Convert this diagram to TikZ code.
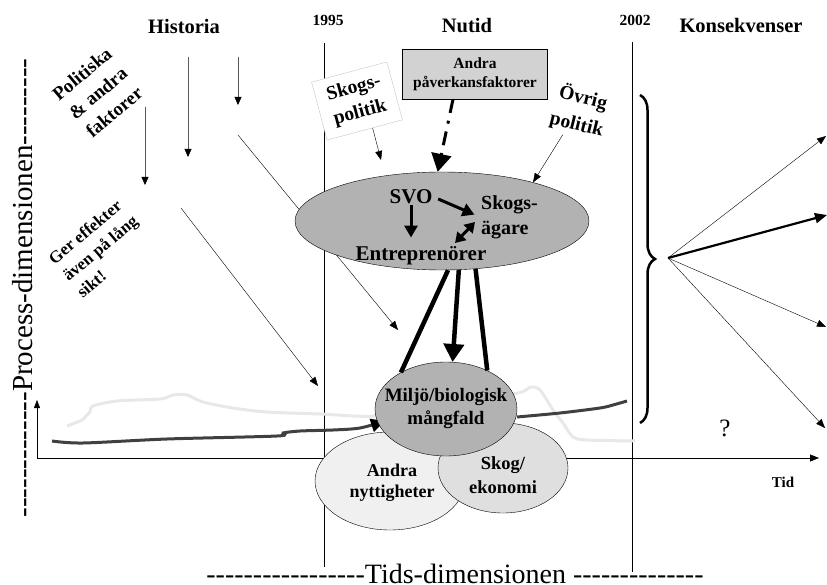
\documentclass[tikz,border=0pt]{standalone}
\usepackage{fontspec}
\setmainfont{Liberation Serif}
\usetikzlibrary{arrows.meta,shapes.geometric,decorations.pathreplacing}
\newcommand\fsz[2]{\fontsize{#1}{#2}\selectfont}
\newcommand\streck[1]{\foreach\i in {1,...,#1}{-\kern0pt}}

\begin{document}
\begin{tikzpicture}[x=1pt,y=-1pt]
\tikzstyle{rubrik}=[font=\fsz{20.5}{24}\bfseries]
\tikzstyle{aarstal}=[font=\fsz{15.5}{18}\bfseries]
\tikzstyle{bubbla}=[ellipse, draw, inner sep=0pt]
\tikzstyle{tunnpil}=[-{Triangle[length=9pt,width=7pt]}]
\tikzstyle{histpil}=[black!65, -{Triangle[length=8pt,width=7pt,color=black]}]
\tikzstyle{grovpil}=[line width=3pt, -{Triangle[length=12pt,width=13pt]}]
\tikzstyle{stapel}=[line width=4.5pt]

\useasboundingbox (0,0) rectangle (827,585);

% tidslinjer 1995 och 2002
\coordinate (t95a) at (324,43);
\coordinate (t95b) at (324,567);
\coordinate (t02a) at (632,42);
\coordinate (t02b) at (632,572);
\draw (t95a) -- (t95b);
\draw (t02a) -- (t02b);

% axlar
\coordinate (origo) at (37,458);
\coordinate (ytopp) at (37,400);
\coordinate (xslut) at (819,458);
\draw[-{Triangle[length=8pt,width=6pt]}] (origo) -- (ytopp);
\draw[-{Triangle[length=9pt,width=7pt]}] (origo) -- (xslut);

% pilar fraan historien
\coordinate (h1a) at (145,107);
\coordinate (h1b) at (145,185);
\coordinate (h2a) at (188,57);
\coordinate (h2b) at (188,157);
\coordinate (h3a) at (238,57);
\coordinate (h3b) at (238,105);
\draw[histpil] (h1a) -- (h1b);
\draw[histpil] (h2a) -- (h2b);
\draw[histpil] (h3a) -- (h3b);
\coordinate (d1a) at (238,135);
\coordinate (d1b) at (398,330);
\coordinate (d2a) at (181,208);
\coordinate (d2b) at (318,386);
\draw[tunnpil] (d1a) -- (d1b);
\draw[tunnpil] (d2a) -- (d2b);

% kurvorna
\draw[gray!18, line width=3pt] plot[smooth, tension=0.5] coordinates {(67,426) (82,420) (86,416) (90,412) (93,406) (117,401) (160,399) (173,395) (187,395) (203,402) (233,408) (267,412) (320,414) (377,416) (450,405) (518,393) (530,387) (540,390) (553,410) (563,423) (573,437) (587,440) (635,441)};
\draw[black!75, line width=3pt, -{Triangle[length=14pt,width=13pt,color=black]}] plot[smooth, tension=0.5] coordinates {(52,441) (83,443) (167,439) (277,436) (283,433) (300,431) (333,430) (360,428) (385,421)};
\draw[black!75, line width=3pt] plot[smooth, tension=0.5] coordinates {(517,417) (560,413) (600,408) (613,405) (627,401)};

% bubblor
\node[bubbla, fill=gray!60, minimum width=294pt, minimum height=98pt] (vo) at (442,221) {};
\node[bubbla, fill=gray!12, minimum width=150pt, minimum height=98pt] (nytta) at (390,481) {};
\node[bubbla, fill=gray!25, minimum width=130pt, minimum height=90pt] (skog) at (503,468) {};
\node[bubbla, fill=gray!60, minimum width=142pt, minimum height=94pt] (miljo) at (446,409) {};
\node[font=\fsz{18}{21}\bfseries, align=center] (nyttatxt) at (392,483) {Andra\\nyttigheter};
\node[font=\fsz{18.5}{24}\bfseries, align=center] (skogtxt) at (503,475) {Skog/\\ekonomi};
\node[font=\fsz{19}{23}\bfseries, align=center] (miljotxt) at (446,409) {Miljö/biologisk\\mångfald};

% aktoerer
\node[font=\fsz{21}{24}\bfseries, inner sep=1pt] (svo) at (411,197) {SVO};
\node[font=\fsz{21}{24}\bfseries, inner sep=1pt] (entrepr) at (421,256) {Entreprenörer};
\node[font=\fsz{20}{25}\bfseries, align=left, anchor=west, inner sep=1pt] (agare) at (480,217) {Skogs-\\ägare};
\draw[grovpil, shorten >=8pt] (svo.south) -- (svo.south |- entrepr.north);
\draw[grovpil, shorten <=5pt, shorten >=6pt] (svo.east) -- (agare.west);
\coordinate (dubbelA) at (455,243);
\coordinate (dubbelB) at (475,222);
\draw[line width=3pt, {Triangle[length=10pt,width=12pt]}-{Triangle[length=10pt,width=12pt]}] (dubbelA) -- (dubbelB);

\draw[stapel] (vo.277) -- (miljo.141);
\draw[stapel, -{Triangle[length=18pt,width=20pt]}] (vo.289) -- (miljo.82);
\draw[stapel] (vo.305) -- (miljo.43);

% paaverkan uppifraan
\node[draw, fill=gray!35, font=\fsz{15.5}{19}\bfseries, align=center, minimum width=145pt, minimum height=50pt, inner sep=1pt] (andrapav) at (475,74) {Andra\\påverkansfaktorer};
\node[draw=gray!45, fill=white, font=\fsz{19.5}{25}\bfseries, align=center, minimum width=78pt, minimum height=60pt, rotate=15] (skogspol) at (357,101) {Skogs-\\politik};
\node[font=\fsz{19.5}{27}\bfseries, align=center, rotate=-14] (ovrig) at (580,111) {Övrig\\politik};
\coordinate (skpolslut) at (381,160);
\draw[tunnpil] (skogspol.-75) -- (skpolslut);
\draw[tunnpil] (ovrig.248) -- (vo.23);
\draw[line width=3pt, dash pattern=on 14pt off 8pt on 3pt off 8pt, -{Triangle[length=18pt,width=20pt]}] ([xshift=-22pt]andrapav.south) -- (vo.95);

% rubriker
\node[rubrik] (historia) at (184,26) {Historia};
\node[rubrik] (nutid) at (467,26) {Nutid};
\node[rubrik] (konsekv) at (741,25) {Konsekvenser};
\node[aarstal] (ar95) at (328,20) {1995};
\node[aarstal] (ar02) at (635,20) {2002};

% snedstaellda texter
\node[font=\fsz{19}{25}\bfseries, align=center, rotate=40] (politiska) at (98,93) {Politiska\\\& andra\\faktorer};
\node[font=\fsz{17}{22}\bfseries, align=left, rotate=40] (effekter) at (100,248) {Ger effekter\\även på lång\\sikt!};

% konsekvenser
\coordinate (klamA) at (640,95);
\coordinate (klamB) at (640,423);
\draw[line width=2.5pt, decorate, decoration={brace, amplitude=15pt}] (klamA) -- (klamB);
\coordinate (spets) at (668,258);
\coordinate (fan1) at (826,136);
\coordinate (fan2) at (827,215);
\coordinate (fan3) at (826,327);
\coordinate (fan4) at (825,428);
\draw[tunnpil] (spets) -- (fan1);
\draw[line width=2.2pt, -{Triangle[length=12pt,width=10pt]}] (spets) -- (fan2);
\draw[tunnpil] (spets) -- (fan3);
\draw[tunnpil] (spets) -- (fan4);
\node[font=\fsz{25}{28}] (fraga) at (725,428) {?};
\node[font=\fsz{15}{18}\bfseries] (tid) at (783,482) {Tid};

% dimensionerna
\node[font=\fsz{28}{30}, anchor=base] (tidsdim) at (455,583) {\streck{17}Tids-dimensionen \streck{14}};
\node[font=\fsz{29}{31}, rotate=90, anchor=base] (procdim) at (32,288) {\streck{13}Process-dimensionen\streck{9}};
\end{tikzpicture}
\end{document}
